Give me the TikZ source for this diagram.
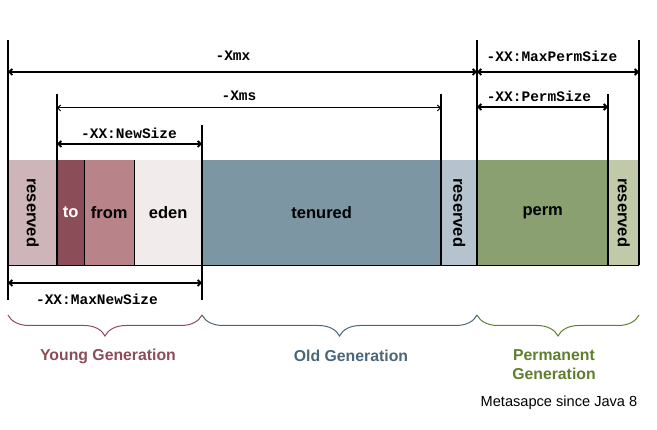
\documentclass[tikz,border=0pt]{standalone}
\usepackage{fontspec}
\setmainfont{Liberation Sans}
\newfontfamily\monof{Liberation Mono}
\usetikzlibrary{arrows.meta,decorations.pathreplacing}
\definecolor{cRes}{HTML}{CDB5B9}
\definecolor{cTo}{HTML}{8B4D57}
\definecolor{cFrom}{HTML}{B98489}
\definecolor{cEden}{HTML}{F2EBEB}
\definecolor{cTen}{HTML}{7D96A3}
\definecolor{cResO}{HTML}{B4C3CD}
\definecolor{cPerm}{HTML}{8AA070}
\definecolor{cResP}{HTML}{C0C9A8}
\definecolor{tYoung}{HTML}{8B4D57}
\definecolor{tOld}{HTML}{4A6678}
\definecolor{tPerm}{HTML}{5F7F2E}
\begin{document}
\begin{tikzpicture}[x=1pt,y=-1pt,
  cell/.style={fill=#1, minimum height=105pt, inner sep=0pt, anchor=north west},
  ctext/.style={font=\fontsize{16.5}{16.5}\selectfont\bfseries},
  rot/.style={rotate=-90},
  ext/.style={line width=1.4pt},
  sep/.style={line width=0.9pt},
  dim/.style={line width=1.8pt, {Straight Barb[length=3pt,width=6pt]}-{Straight Barb[length=3pt,width=6pt]}},
  dlab/.style={font=\monof\fontsize{14.5}{14.5}\selectfont\bfseries, inner sep=1pt},
  gen/.style={font=\fontsize{15.8}{19}\selectfont\bfseries, align=center},
  brc/.style={line width=1pt, decorate, decoration={brace, amplitude=21pt, mirror}}]
\useasboundingbox (0,0) rectangle (657,430);
% cells
\node[cell=cRes,  minimum width=49pt]  (r1)   at (8,160)   {};
\node[cell=cTo,   minimum width=27pt]  (to)   at (57,160)  {};
\node[cell=cFrom, minimum width=50pt]  (from) at (84,160)  {};
\node[cell=cEden, minimum width=68pt]  (eden) at (134,160) {};
\node[cell=cTen,  minimum width=239pt] (ten)  at (202,160) {};
\node[cell=cResO, minimum width=36pt]  (r2)   at (441,160) {};
\node[cell=cPerm, minimum width=131pt] (perm) at (477,160) {};
\node[cell=cResP, minimum width=31pt]  (r3)   at (608,160) {};
% cell texts
\node[ctext, rot] (tr1) at (r1.center) {reserved};
\node[ctext, text=white] (tto) at (to.center) {to};
\node[ctext] (tfrom) at (from.center) {from};
\node[ctext] (teden) at (eden.center) {eden};
\node[ctext] (tten) at (ten.center) {tenured};
\node[ctext, rot] (tr2) at (r2.center) {reserved};
\node[ctext] (tperm) at (perm.center) {perm};
\node[ctext, rot] (tr3) at (r3.center) {reserved};
% separators and bottom line
\draw[sep] (to.north east) -- (to.south east);
\draw[sep] (from.north east) -- (from.south east);
\draw[sep] (r1.south west) -- (r3.south east);
% extension lines
\coordinate (e1t) at (8,40);    \coordinate (e1b) at (8,300);
\coordinate (e2t) at (57,94);   \coordinate (e2b) at (57,265);
\coordinate (e3t) at (202,125); \coordinate (e3b) at (202,300);
\coordinate (e4t) at (441,94);  \coordinate (e4b) at (441,265);
\coordinate (e5t) at (477,40);  \coordinate (e5b) at (477,265);
\coordinate (e6t) at (608,94);  \coordinate (e6b) at (608,265);
\coordinate (e7t) at (639,40);  \coordinate (e7b) at (639,265);
\foreach \i in {1,...,7} {\draw[ext] (e\i t) -- (e\i b);}
% dimension arrows
\coordinate (mxl) at (8,72);   \coordinate (mxr) at (477,72);
\coordinate (mpl) at (477,72); \coordinate (mpr) at (639,72);
\coordinate (msl) at (57,108); \coordinate (msr) at (441,108);
\coordinate (psl) at (477,107);\coordinate (psr) at (608,107);
\coordinate (nsl) at (57,144); \coordinate (nsr) at (202,144);
\coordinate (mnl) at (8,283);  \coordinate (mnr) at (202,283);
\draw[dim] (mxl) -- (mxr);
\draw[dim] (mpl) -- (mpr);
\draw[dim, line width=1pt] (msl) -- (msr);
\draw[dim] (psl) -- (psr);
\draw[dim] (nsl) -- (nsr);
\draw[dim] (mnl) -- (mnr);
\node[dlab] (lmx) at (233,56) {-Xmx};
\node[dlab] (lmp) at (552,56) {-XX:MaxPermSize};
\node[dlab] (lms) at (239,96) {-Xms};
\node[dlab] (lps) at (539,96) {-XX:PermSize};
\node[dlab] (lns) at (129,133) {-XX:NewSize};
\node[dlab] (lmn) at (97,299) {-XX:MaxNewSize};
% braces
\coordinate (b0) at (8,315);
\coordinate (b1) at (202,315);
\coordinate (b2) at (477,315);
\coordinate (b3) at (639,315);
\draw[brc, draw=tYoung] (b0) -- (b1);
\draw[brc, draw=tOld] (b1) -- (b2);
\draw[brc, draw=tPerm] (b2) -- (b3);
% generation labels
\node[gen, text=tYoung] (gy) at (108,356) {Young Generation};
\node[gen, text=tOld] (go) at (351,356) {Old Generation};
\node[gen, text=tPerm] (gp) at (554,365) {Permanent\\Generation};
\node[font=\fontsize{14.6}{15}\selectfont] (meta) at (559,403) {Metasapce since Java 8};
\end{tikzpicture}
\end{document}
